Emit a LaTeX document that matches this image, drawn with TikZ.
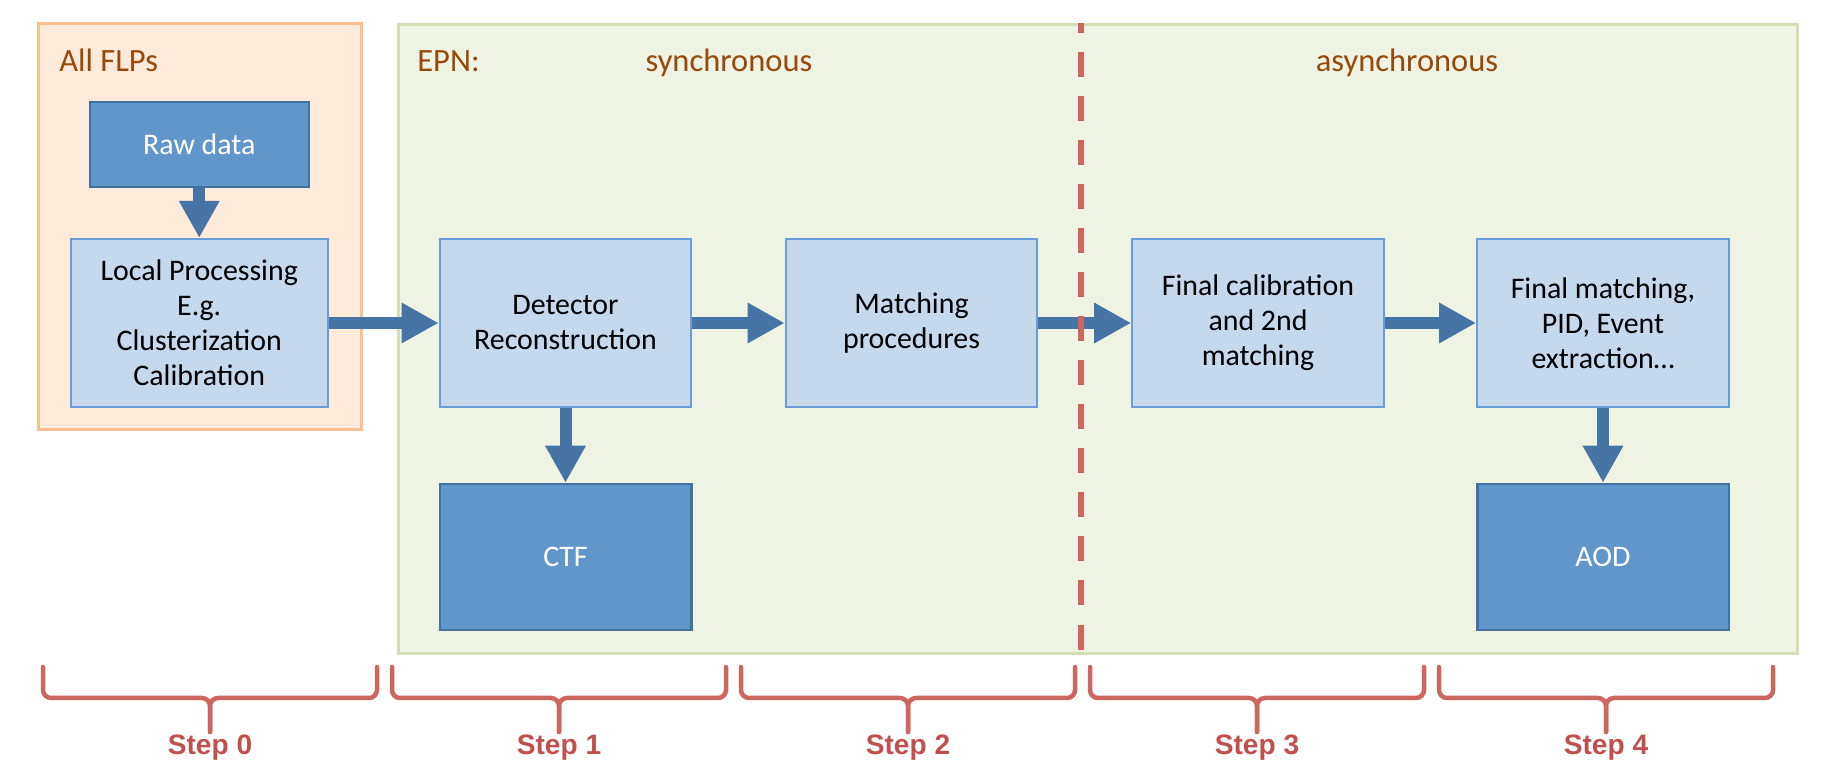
\documentclass[tikz,border=0pt]{standalone}
\usepackage{fontspec}
\setmainfont{Carlito}
\newfontfamily\stepfont{Liberation Sans}
\usepackage{xcolor}
\usetikzlibrary{arrows.meta}

\definecolor{flpfill}{HTML}{FDEADA}
\definecolor{flpline}{HTML}{FAC090}
\definecolor{epnfill}{HTML}{EEF3E3}
\definecolor{epnline}{HTML}{D3E0B5}
\definecolor{ttlbrown}{HTML}{984807}
\definecolor{procfill}{HTML}{C5D8EC}
\definecolor{procline}{HTML}{6A9DD5}
\definecolor{datafill}{HTML}{6096C9}
\definecolor{dataline}{HTML}{41719C}
\definecolor{arrowblue}{HTML}{4674A5}
\definecolor{bracered}{HTML}{CE6660}
\definecolor{steptext}{HTML}{C0504D}

\begin{document}
\begin{tikzpicture}[
  every node/.style={font=\fontsize{17pt}{19.9pt}\selectfont},
  area/.style={draw, line width=0.06cm, inner sep=0pt},
  ttl/.style={font=\fontsize{18.5pt}{22pt}\selectfont, text=ttlbrown, inner sep=0pt},
  proc/.style={draw=procline, fill=procfill, line width=0.045cm, minimum width=5.03cm,
               minimum height=3.36cm, align=center},
  data/.style={draw=dataline, fill=datafill, line width=0.05cm, minimum width=5.03cm,
               minimum height=2.92cm, align=center, text=white},
  arr/.style={-{Triangle[length=0.74cm, width=0.76cm]}, line width=0.24cm, arrowblue},
  brc/.style={bracered, line width=0.09cm, rounded corners=0.16cm, line cap=round},
  steplbl/.style={font=\stepfont\bfseries\fontsize{16pt}{18pt}\selectfont, text=steptext,
                  anchor=base, inner sep=0pt}
]
\useasboundingbox (0,0) rectangle (36.48,-15.6);

%% 0. Areas
\node[area, fill=flpfill, draw=flpline, minimum width=6.46cm, minimum height=8.12cm]
  (flp) at (3.99,-4.54) {};
\node[area, fill=epnfill, draw=epnline, minimum width=27.98cm, minimum height=12.58cm]
  (epn) at (21.95,-6.79) {};

\node[ttl, anchor=base west] (flptitle) at (1.18,-1.44) {All FLPs};
\node[ttl, anchor=base west] (epntitle) at (8.34,-1.44) {EPN:};
\node[ttl, anchor=base] (sync) at (14.58,-1.44) {synchronous};
\node[ttl, anchor=base] (async) at (28.14,-1.44) {asynchronous};

%% 1. FLP boxes
\node[data, minimum width=4.38cm, minimum height=1.70cm] (raw)
  at (3.985,-2.89) {Raw data};
\node[proc, minimum width=5.14cm] (local)
  at (3.985,-6.46) {Local Processing\\E.g.\\Clusterization\\Calibration};

%% 2. Synchronous part
\node[proc] (reco) at (11.31,-6.46) {Detector\\Reconstruction};
\node[proc] (match) at (18.23,-6.46) {Matching\\procedures};
\node[data] (ctf) at (11.31,-11.14) {CTF};

%% 3. Asynchronous part
\node[proc] (finalcal) at (25.16,-6.46) {Final calibration\\and 2nd\\matching};
\node[proc] (finalmatch) at (32.06,-6.46) {Final matching,\\PID, Event\\extraction…};
\node[data] (aod) at (32.06,-11.14) {AOD};

%% ---- Arrows ----
\draw[arr] (raw.south) -- (local.north);
\draw[arr] (local.east) -- (reco.west);
\draw[arr] (reco.south) -- (ctf.north);
\draw[arr] (reco.east) -- (match.west);
\draw[arr] (match.east) -- (finalcal.west);
\draw[arr] (finalcal.east) -- (finalmatch.west);
\draw[arr] (finalmatch.south) -- (aod.north);

%% sync / async border
\draw[bracered, line width=0.11cm, dash pattern=on 0.5cm off 0.38cm, dash phase=0.3cm]
  (21.62,0 |- epn.north) -- (21.62,0 |- epn.south);

%% ---- Steps ----
\foreach \i/\xl in {0/0.86, 1/7.84, 2/14.82, 3/21.80, 4/28.78} {
  \pgfmathsetmacro\xr{\xl+6.68}
  \pgfmathsetmacro\xm{\xl+3.34}
  \draw[brc] (\xl,-13.34) -- (\xl,-13.96) -- (\xm,-13.96) -- (\xm,-14.64);
  \draw[brc] (\xr,-13.34) -- (\xr,-13.96) -- (\xm,-13.96) -- (\xm,-14.64);
  \node[steplbl] (step\i) at (\xm,-15.10) {Step \i};
}

\end{tikzpicture}
\end{document}
